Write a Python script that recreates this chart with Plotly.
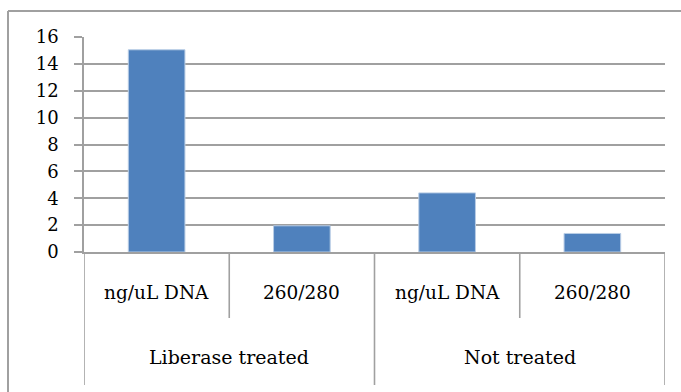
import plotly.graph_objects as go

groups = ["Liberase treated", "Not treated"]
subcats = ["ng/uL DNA", "260/280"]
values = [15.05, 1.95, 4.4, 1.38]
y_ticks = [0, 2, 4, 6, 8, 10, 12, 14, 16]

W, H = 681, 392
ML, MR, MT, MB = 84, 16, 37, 140
PW, PH = W - ML - MR, H - MT - MB

n_sub = len(subcats)
xs = list(range(len(groups) * n_sub))
FONT = "DejaVu Serif"
GRID = "#a0a0a0"
LW = 1.6

fig = go.Figure()
fig.add_trace(go.Bar(
    x=xs, y=values, width=0.39,
    marker=dict(color="#4F81BD", line=dict(color="#B9CDE5", width=1)),
    showlegend=False, hoverinfo="skip",
))

def py(px_below):
    return -px_below / PH

shapes = []
annotations = []
for g in range(len(groups)):
    for s in range(1, n_sub):
        xb = g * n_sub + s - 0.5
        shapes.append(dict(type="line", xref="x", yref="paper", x0=xb, x1=xb,
                           y0=0, y1=py(66), line=dict(color=GRID, width=LW)))
for g in range(len(groups) + 1):
    xb = g * n_sub - 0.5
    shapes.append(dict(type="line", xref="x", yref="paper", x0=xb, x1=xb,
                       y0=0, y1=py(133), line=dict(color=GRID, width=LW)))
for g, gname in enumerate(groups):
    for s, sname in enumerate(subcats):
        annotations.append(dict(x=g * n_sub + s, y=0, xref="x", yref="paper",
                                yshift=-40, text=sname, showarrow=False,
                                yanchor="middle",
                                font=dict(family=FONT, size=18.5, color="#000")))
    annotations.append(dict(x=g * n_sub + (n_sub - 1) / 2, y=0, xref="x", yref="paper",
                            yshift=-105, text=gname, showarrow=False,
                            yanchor="middle",
                            font=dict(family=FONT, size=19, color="#000")))
# chart border: top and left edges (others fall outside the picture)
top_y = 1 + (MT - 11) / PH
left_x = (8 - ML) / PW
shapes.append(dict(type="line", xref="paper", yref="paper",
                   x0=left_x, x1=1 + MR / PW, y0=top_y, y1=top_y,
                   line=dict(color=GRID, width=2)))
shapes.append(dict(type="line", xref="paper", yref="paper",
                   x0=left_x, x1=left_x, y0=py(MB), y1=top_y,
                   line=dict(color=GRID, width=2)))

fig.update_layout(
    width=W, height=H,
    margin=dict(l=ML, r=MR, t=MT, b=MB),
    paper_bgcolor="white", plot_bgcolor="white",
    shapes=shapes, annotations=annotations,
    xaxis=dict(range=[-0.5, len(xs) - 0.5], showticklabels=False, ticks="",
               showgrid=False, zeroline=False, showline=True,
               linecolor=GRID, linewidth=LW, fixedrange=True),
    yaxis=dict(range=[0, 16], tickvals=y_ticks, ticks="outside", ticklen=8,
               tickcolor=GRID, tickwidth=LW, showgrid=True, gridcolor=GRID,
               gridwidth=LW, zeroline=False, showline=True, linecolor=GRID,
               linewidth=LW, ticklabelstandoff=12,
               tickfont=dict(family=FONT, size=18, color="#000")),
    font=dict(family=FONT),
)

fig.write_html("out.html", config={"displayModeBar": False},
               post_script="document.body.style.margin='0';document.body.style.overflow='hidden';")
